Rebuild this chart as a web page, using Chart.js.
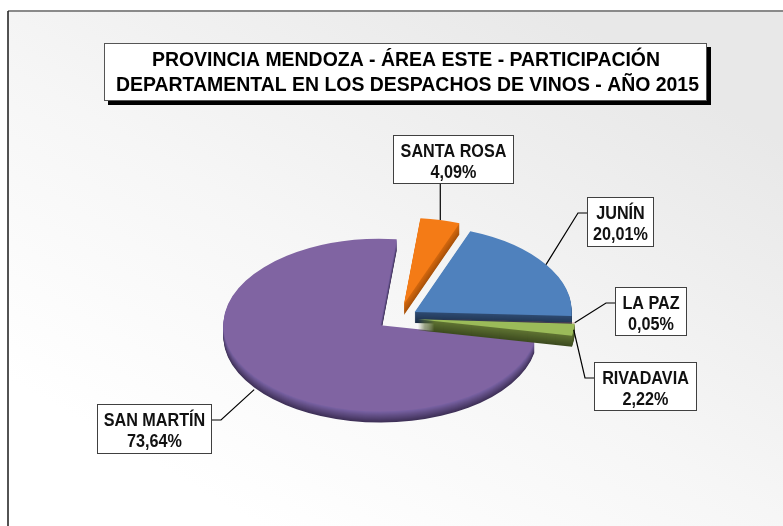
<!DOCTYPE html>
<html><head><meta charset="utf-8">
<script src="https://cdn.jsdelivr.net/npm/chart.js@4/dist/chart.umd.min.js"></script>
<style>html,body{margin:0;padding:0;background:#fff;overflow:hidden}#wrap{position:relative;width:783px;height:526px}canvas{display:block}</style>
</head><body><div id="wrap"><canvas id="c" width="783" height="526"></canvas></div>
<script>
// ---- data ----
const titleLines = ['PROVINCIA MENDOZA - ÁREA ESTE - PARTICIPACIÓN', 'DEPARTAMENTAL EN LOS DESPACHOS DE VINOS - AÑO 2015'];
const departments = ['SANTA ROSA', 'JUNÍN', 'LA PAZ', 'RIVADAVIA', 'SAN MARTÍN'];
const shares = [4.09, 20.01, 0.05, 2.22, 73.64];

// ---- styles ----
const topColors = ['#F47B16', '#4F81BD', '#C0504D', '#9BBB59', '#8064A2'];
const sideLight = ['#D2670E', '#2E4A70', '#8A2A28', '#5E7232', '#7660A0'];
const sideDark = ['#A9520A', '#1C2E47', '#5E1A18', '#3E4C20', '#3F3158'];
const explode = [26, 20, 20, 20, 22];
const drawOrder = [4, 0, 1, 2, 3];
const TILT = 0.55, DEPTH = 11;

function mix(c1, c2, t) {
  const a = parseInt(c1.slice(1), 16), b = parseInt(c2.slice(1), 16);
  const r = Math.round(((a >> 16) & 255) * (1 - t) + ((b >> 16) & 255) * t);
  const g = Math.round(((a >> 8) & 255) * (1 - t) + ((b >> 8) & 255) * t);
  const bl = Math.round((a & 255) * (1 - t) + (b & 255) * t);
  return 'rgb(' + r + ',' + g + ',' + bl + ')';
}

const backgroundPlugin = {
  id: 'bgFrame',
  beforeDraw(chart) {
    const ctx = chart.ctx;
    ctx.save();
    ctx.fillStyle = '#ffffff';
    ctx.fillRect(0, 0, chart.width, chart.height);
    const g = ctx.createLinearGradient(560, 11, 260, 526);
    g.addColorStop(0, '#e8e8e8');
    g.addColorStop(0.55, '#f6f6f6');
    g.addColorStop(1, '#ffffff');
    ctx.fillStyle = g;
    ctx.fillRect(8, 11, chart.width - 8, chart.height - 11);
    ctx.strokeStyle = '#8a8a8a';
    ctx.lineWidth = 2;
    ctx.beginPath(); ctx.moveTo(8, 11); ctx.lineTo(chart.width, 11); ctx.stroke();
    ctx.strokeStyle = '#1a1a1a';
    ctx.lineWidth = 1.5;
    ctx.beginPath(); ctx.moveTo(8, 11); ctx.lineTo(8, chart.height); ctx.stroke();
    ctx.restore();
  }
};

const pie3dPlugin = {
  id: 'pie3d',
  beforeDatasetsDraw(chart) {
    const ctx = chart.ctx;
    const arcs = chart.getDatasetMeta(0).data;
    for (const i of drawOrder) {
      const a = arcs[i];
      const saved = a.options;
      const mid = (a.startAngle + a.endAngle) / 2;
      const e = explode[i];
      ctx.save();
      ctx.translate(a.x, a.y);
      ctx.scale(1, TILT);
      ctx.translate(-a.x, -a.y);
      ctx.translate(Math.cos(mid) * e, Math.sin(mid) * e);
      for (let d = DEPTH; d >= 1; d--) {
        ctx.save();
        ctx.translate(0, d / TILT);
        a.options = Object.assign({}, saved, {backgroundColor: mix(sideLight[i], sideDark[i], (d - 1) / (DEPTH - 1))});
        a.draw(ctx);
        ctx.restore();
      }
      a.options = saved;
      a.draw(ctx);
      ctx.restore();
    }
    return false;
  }
};

const labelBoxes = [
  {x: 393, y: 135, w: 121, h: 49, side: 'bottom', dy: 0},
  {x: 587, y: 197, w: 67, h: 50, side: 'left', dy: 0},
  {x: 615, y: 287, w: 72, h: 49, side: 'left', dy: 0},
  {x: 594, y: 362, w: 103, h: 49, side: 'left', dy: 0},
  {x: 97, y: 404, w: 115, h: 50, side: 'right', dy: DEPTH + 2}
];

function drawScaledText(ctx, text, x, y, sx) {
  ctx.save();
  ctx.translate(x, y);
  ctx.scale(sx, 1);
  ctx.fillText(text, 0, 0);
  ctx.restore();
}

const annotPlugin = {
  id: 'annot',
  afterDraw(chart) {
    const ctx = chart.ctx;
    const arcs = chart.getDatasetMeta(0).data;
    ctx.save();
    // title box
    const tb = {x: 104, y: 43, w: 603, h: 58};
    ctx.fillStyle = '#000';
    ctx.fillRect(tb.x + 4, tb.y + 4, tb.w, tb.h);
    ctx.fillStyle = '#fff';
    ctx.fillRect(tb.x, tb.y, tb.w, tb.h);
    ctx.strokeStyle = '#555';
    ctx.lineWidth = 1;
    ctx.strokeRect(tb.x + 0.5, tb.y + 0.5, tb.w - 1, tb.h - 1);
    ctx.fillStyle = '#000';
    ctx.font = 'bold 21px "Liberation Sans", Arial, sans-serif';
    ctx.textAlign = 'center';
    ctx.textBaseline = 'middle';
    const sxT = 583 / ctx.measureText(titleLines[1]).width;
    drawScaledText(ctx, titleLines[0], 406, 60, sxT);
    drawScaledText(ctx, titleLines[1], 407.5, 85, sxT);

    // data labels
    ctx.font = 'bold 18.5px "Liberation Sans", Arial, sans-serif';
    arcs.forEach((a, i) => {
      const b = labelBoxes[i];
      const mid = (a.startAngle + a.endAngle) / 2;
      const r = a.outerRadius + explode[i];
      const ax = a.x + Math.cos(mid) * r;
      const ay = a.y + Math.sin(mid) * r * TILT + b.dy;
      ctx.strokeStyle = '#000';
      ctx.lineWidth = 1.2;
      ctx.beginPath();
      ctx.moveTo(ax, ay);
      if (b.side === 'bottom') {
        ctx.lineTo(ax, b.y + b.h);
      } else if (b.side === 'left') {
        ctx.lineTo(b.x - 9, b.y + 16);
        ctx.lineTo(b.x, b.y + 16);
      } else {
        ctx.lineTo(b.x + b.w + 9, b.y + 16);
        ctx.lineTo(b.x + b.w, b.y + 16);
      }
      ctx.stroke();
      ctx.fillStyle = '#fff';
      ctx.fillRect(b.x, b.y, b.w, b.h);
      ctx.strokeStyle = '#404040';
      ctx.lineWidth = 1;
      ctx.strokeRect(b.x + 0.5, b.y + 0.5, b.w - 1, b.h - 1);
      ctx.fillStyle = '#111';
      const pct = shares[i].toFixed(2).replace('.', ',') + '%';
      drawScaledText(ctx, departments[i], b.x + b.w / 2, b.y + 16.5, 0.875);
      drawScaledText(ctx, pct, b.x + b.w / 2, b.y + 38, 0.875);
    });
    ctx.restore();
  }
};

new Chart(document.getElementById('c'), {
  type: 'pie',
  data: {
    labels: departments,
    datasets: [{
      data: shares,
      backgroundColor: topColors,
      borderWidth: 0,
      radius: 157,
      hoverOffset: 0,
      offset: 0
    }]
  },
  options: {
    responsive: false,
    animation: false,
    events: [],
    rotation: 6,
    layout: {padding: {left: 113, right: 100, top: 210, bottom: 100}},
    plugins: {legend: {display: false}, tooltip: {enabled: false}, title: {display: false}}
  },
  plugins: [backgroundPlugin, pie3dPlugin, annotPlugin]
});
</script>
</body></html>
